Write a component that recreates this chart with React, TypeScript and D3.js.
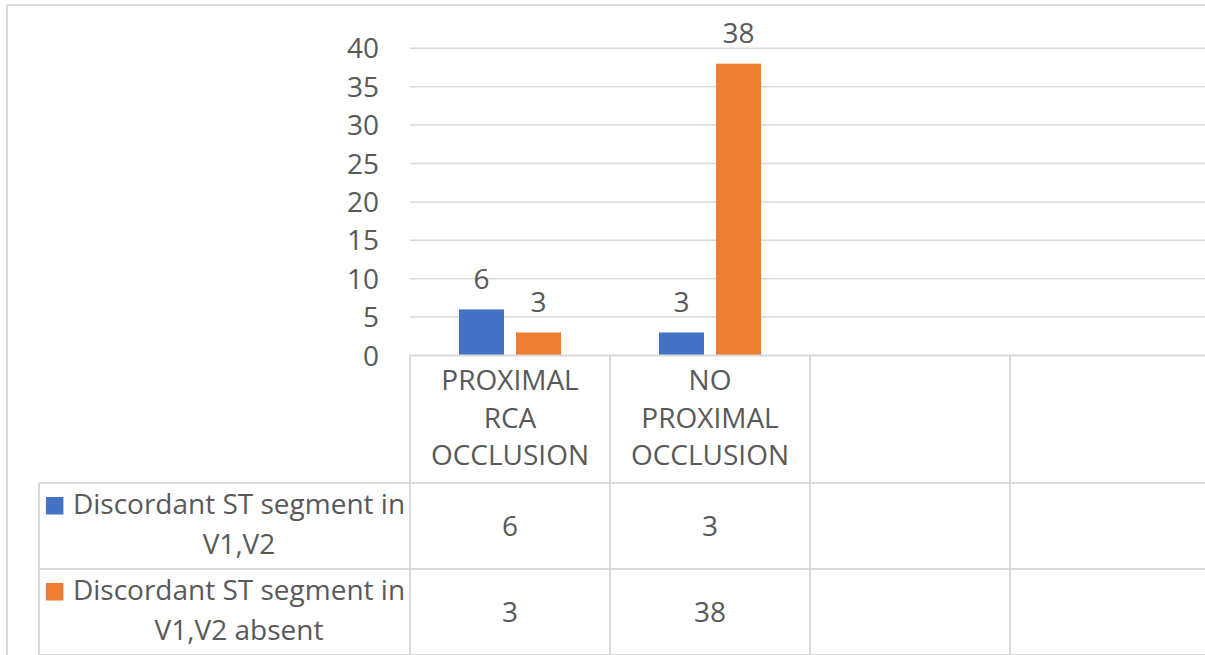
import React, { useEffect, useRef } from "react";
import * as d3 from "d3";

// Category rows of the data table (the last two columns are left blank)
const categories = ["PROXIMAL RCA OCCLUSION", "NO PROXIMAL OCCLUSION", "", ""];
const seriesNames = ["Discordant ST segment in V1,V2", "Discordant ST segment in V1,V2 absent"];
const seriesColors = ["#4472C4", "#ED7D31"];
const stPresent = [6, 3];
const stAbsent = [3, 38];
const yTicks = [0, 5, 10, 15, 20, 25, 30, 35, 40];

const W = 1205;
const H = 655;
const FONT = "'Open Sans', 'Segoe UI', sans-serif";
const TEXT = "#595959";
const GRID = "#d9d9d9";

export default function App() {
  const ref = useRef<SVGSVGElement | null>(null);

  useEffect(() => {
    const svg = d3.select(ref.current);
    svg.selectAll("*").remove();

    const plotLeft = 410;
    const plotRight = 1210;
    const plotTop = 48.3;
    const plotBottom = 355.5;
    const headerBottom = 483;
    const rowH = 86;
    const tableLeft = 39;

    const x = d3.scaleBand<number>().domain(d3.range(categories.length)).range([plotLeft, plotRight]);
    const y = d3.scaleLinear().domain([0, 40]).range([plotBottom, plotTop]);
    const inner = d3
      .scaleBand<number>()
      .domain([0, 1])
      .range([x.bandwidth() * 0.245, x.bandwidth() * 0.755])
      .paddingInner(0.21);

    const values = [stPresent, stAbsent];

    // chart frame
    svg.append("line").attr("x1", 7).attr("x2", 7).attr("y1", 5).attr("y2", H).attr("stroke", GRID).attr("stroke-width", 2);
    svg.append("line").attr("x1", 7).attr("x2", W).attr("y1", 5).attr("y2", 5).attr("stroke", GRID).attr("stroke-width", 2);

    // gridlines
    svg
      .append("g")
      .selectAll("line")
      .data(yTicks.filter((t) => t > 0))
      .join("line")
      .attr("x1", plotLeft)
      .attr("x2", W)
      .attr("y1", (d) => y(d))
      .attr("y2", (d) => y(d))
      .attr("stroke", GRID)
      .attr("stroke-width", 1.5);

    // y tick labels
    svg
      .append("g")
      .selectAll("text")
      .data(yTicks)
      .join("text")
      .attr("x", 379)
      .attr("y", (d) => y(d))
      .attr("dy", "0.36em")
      .attr("text-anchor", "end")
      .attr("font-family", FONT)
      .attr("font-size", 28)
      .attr("fill", TEXT)
      .text((d) => d);

    // bars
    values.forEach((vals, s) => {
      const g = svg.append("g");
      g.selectAll("rect")
        .data(vals)
        .join("rect")
        .attr("x", (_, i) => (x(i) as number) + (inner(s) as number))
        .attr("y", (d) => y(d))
        .attr("width", inner.bandwidth())
        .attr("height", (d) => y(0) - y(d))
        .attr("fill", seriesColors[s]);
      g.selectAll("text")
        .data(vals)
        .join("text")
        .attr("x", (_, i) => (x(i) as number) + (inner(s) as number) + inner.bandwidth() / 2)
        .attr("y", (d) => y(d) - 20.5)
        .attr("text-anchor", "middle")
        .attr("font-family", FONT)
        .attr("font-size", 28)
        .attr("fill", TEXT)
        .text((d) => d);
    });

    // data table lines
    const tl = svg.append("g").attr("stroke", GRID).attr("stroke-width", 2);
    tl.append("line").attr("x1", plotLeft).attr("x2", W).attr("y1", plotBottom).attr("y2", plotBottom);
    [headerBottom, headerBottom + rowH, headerBottom + 2 * rowH].forEach((yy) => {
      tl.append("line").attr("x1", tableLeft).attr("x2", W).attr("y1", yy).attr("y2", yy);
    });
    tl.append("line").attr("x1", tableLeft).attr("x2", tableLeft).attr("y1", headerBottom).attr("y2", H);
    categories.forEach((_, i) => {
      const xx = x(i) as number;
      tl.append("line").attr("x1", xx).attr("x2", xx).attr("y1", plotBottom).attr("y2", H);
    });

    // category labels
    categories.forEach((c, i) => {
      const words = c.split(" ").filter((w) => w.length > 0);
      const t = svg
        .append("text")
        .attr("text-anchor", "middle")
        .attr("font-family", FONT)
        .attr("font-size", 28)
        .attr("fill", TEXT);
      words.forEach((w, k) => {
        t.append("tspan")
          .attr("x", (x(i) as number) + x.bandwidth() / 2)
          .attr("y", 390 + k * 37.5)
          .text(w);
      });
    });

    // legend rows with series values
    const legendLines = [
      ["Discordant ST segment in", "V1,V2"],
      ["Discordant ST segment in", "V1,V2 absent"],
    ];
    values.forEach((vals, s) => {
      const top = headerBottom + s * rowH;
      const cx = 239;
      const t = svg
        .append("text")
        .attr("text-anchor", "middle")
        .attr("font-family", FONT)
        .attr("font-size", 28)
        .attr("fill", TEXT)
        .attr("aria-label", seriesNames[s]);
      legendLines[s].forEach((line, k) => {
        t.append("tspan").attr("x", cx).attr("y", top + 31 + k * 39.5).text(line);
      });
      const first = t.select<SVGTSpanElement>("tspan").node();
      const w = first ? first.getComputedTextLength() : 326;
      svg
        .append("rect")
        .attr("x", cx - w / 2 - 27)
        .attr("y", top + 14)
        .attr("width", 17.5)
        .attr("height", 17.5)
        .attr("fill", seriesColors[s]);

      svg
        .append("g")
        .selectAll("text")
        .data(vals)
        .join("text")
        .attr("x", (_, i) => (x(i) as number) + x.bandwidth() / 2)
        .attr("y", top + rowH / 2 + 10)
        .attr("text-anchor", "middle")
        .attr("font-family", FONT)
        .attr("font-size", 28)
        .attr("fill", TEXT)
        .text((d) => d);
    });
  }, []);

  return (
    <svg
      ref={ref}
      width={W}
      height={H}
      style={{ position: "absolute", left: 0, top: 0, background: "#fff" }}
    />
  );
}
